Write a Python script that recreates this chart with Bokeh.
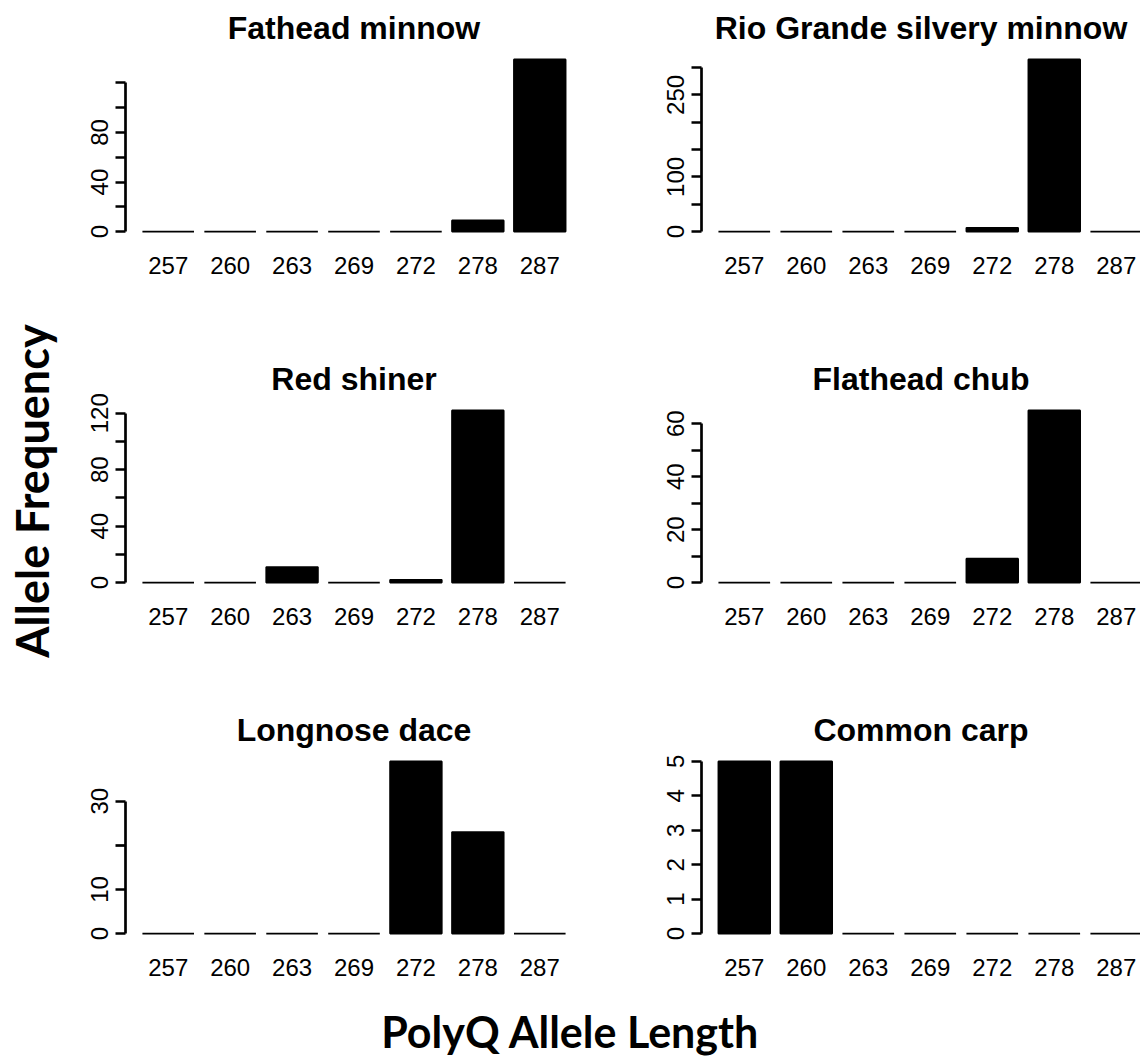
import math
import numpy as np
from bokeh.plotting import figure
from bokeh.layouts import column, row
from bokeh.models import Range1d, FixedTicker, Label
from bokeh.embed import file_html
from bokeh.resources import INLINE

# PolyQ allele lengths (bar categories)
alleles = ["257", "260", "263", "269", "272", "278", "287"]

# allele counts per species
fathead_minnow = [0, 0, 0, 0, 0, 9, 139]
rio_grande_silvery_minnow = [0, 0, 0, 0, 7, 315, 0]
red_shiner = [0, 0, 11, 0, 2, 122, 0]
flathead_chub = [0, 0, 0, 0, 9, 65, 0]
longnose_dace = [0, 0, 0, 0, 39, 23, 0]
common_carp = [5, 5, 0, 0, 0, 0, 0]

# y-axis ticks: labelled and unlabelled positions for each panel
fathead_labelled = [0, 40, 80]
fathead_unlabelled = [20, 60, 100, 120]
rio_labelled = [0, 100, 250]
rio_unlabelled = [50, 150, 200, 300]
red_labelled = [0, 40, 80, 120]
red_unlabelled = [20, 60, 100]
flathead_labelled = [0, 20, 40, 60]
flathead_unlabelled = [10, 30, 50]
longnose_labelled = [0, 10, 30]
longnose_unlabelled = [20]
carp_labelled = [0, 1, 2, 3, 4, 5]
carp_unlabelled = []

panels = [
    ("Fathead minnow", fathead_minnow, fathead_labelled, fathead_unlabelled),
    ("Rio Grande silvery minnow", rio_grande_silvery_minnow, rio_labelled, rio_unlabelled),
    ("Red shiner", red_shiner, red_labelled, red_unlabelled),
    ("Flathead chub", flathead_chub, flathead_labelled, flathead_unlabelled),
    ("Longnose dace", longnose_dace, longnose_labelled, longnose_unlabelled),
    ("Common carp", common_carp, carp_labelled, carp_unlabelled),
]

AXIS_FONT = "Liberation Sans"
BIG_FONT = "Lato"
FRAME_H = 186
BAR_W = 1 / 1.2
STRIP_W = 66


def make_panel(title, counts, labelled, unlabelled, col, last_row):
    m = max(counts)
    left = col == 0
    p = figure(
        frame_width=457 if left else 439,
        frame_height=FRAME_H,
        x_range=Range1d(-0.69, 6.69 if left else 6.391),
        y_range=Range1d(-0.04 * m, 1.04 * m),
        min_border_left=125 - STRIP_W if left else 101,
        min_border_right=18 if left else 0,
        min_border_top=52,
        min_border_bottom=47 if last_row else 113,
        toolbar_location=None,
        output_backend="svg",
        title=title,
    )
    x = np.arange(len(alleles))
    p.vbar(x=x, top=counts, bottom=0, width=BAR_W,
           fill_color="black", line_color="black", line_width=1.8)

    p.grid.visible = False
    p.outline_line_color = None
    p.background_fill_color = "white"
    p.border_fill_color = "white"

    p.title.align = "center"
    p.title.text_font = AXIS_FONT
    p.title.text_font_size = "32px"
    p.title.text_font_style = "bold"
    p.title.text_color = "black"
    p.title.standoff = 13

    xa = p.xaxis[0]
    xa.ticker = FixedTicker(ticks=list(range(len(alleles))))
    xa.major_label_overrides = {i: a for i, a in enumerate(alleles)}
    xa.axis_line_color = None
    xa.major_tick_line_color = None
    xa.minor_tick_line_color = None
    xa.major_label_standoff = 12
    xa.major_label_text_font = AXIS_FONT
    xa.major_label_text_font_size = "24px"
    xa.major_label_text_color = "black"

    ya = p.yaxis[0]
    ya.ticker = FixedTicker(ticks=labelled, minor_ticks=unlabelled)
    ya.bounds = (0, max(labelled + unlabelled))
    ya.axis_line_width = 2.7
    ya.axis_line_color = "black"
    ya.major_tick_line_width = 2.7
    ya.minor_tick_line_width = 2.7
    ya.major_tick_line_color = "black"
    ya.minor_tick_line_color = "black"
    ya.major_tick_out = 10
    ya.major_tick_in = 0
    ya.minor_tick_out = 10
    ya.minor_tick_in = 0
    ya.major_label_orientation = "parallel"
    ya.major_label_standoff = 7
    ya.major_label_text_font = AXIS_FONT
    ya.major_label_text_font_size = "24px"
    ya.major_label_text_color = "black"
    return p


figs = []
for k, (title, counts, lab, unlab) in enumerate(panels):
    figs.append(make_panel(title, counts, lab, unlab, k % 2, k >= 4))

grid = column(row(figs[0], figs[1]), row(figs[2], figs[3]), row(figs[4], figs[5]))

rows_h = 351 * 2 + 285
strip_h = 1059 - rows_h

# strip holding the shared y-axis title
ylab = figure(width=STRIP_W, height=rows_h, x_range=Range1d(0, STRIP_W), y_range=Range1d(0, rows_h),
              x_axis_type=None, y_axis_type=None, min_border=0, toolbar_location=None,
              output_backend="svg")
ylab.grid.visible = False
ylab.outline_line_color = None
ylab.add_layout(Label(x=31, y=rows_h - 490.5, text="Allele Frequency", angle=math.pi / 2,
                      text_align="center", text_baseline="middle", text_font=BIG_FONT,
                      text_font_size="45px", text_font_style="bold", text_color="black"))

# strip holding the shared x-axis title
xlab = figure(width=1140, height=strip_h, x_range=Range1d(0, 1140),
              y_range=Range1d(0, strip_h), x_axis_type=None, y_axis_type=None,
              min_border=0, toolbar_location=None, output_backend="svg")
xlab.grid.visible = False
xlab.outline_line_color = None
xlab.add_layout(Label(x=570, y=strip_h - 44, text="PolyQ Allele Length", text_align="center",
                      text_baseline="middle", text_font=BIG_FONT, text_font_size="43px",
                      text_font_style="bold", text_color="black"))

layout = column(row(ylab, grid), xlab)

open("out.html", "w").write(file_html(layout, INLINE))
